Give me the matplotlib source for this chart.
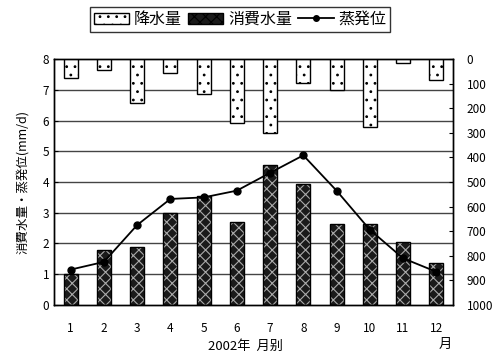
import numpy as np
import matplotlib
matplotlib.use("Agg")
import matplotlib.pyplot as plt
from matplotlib.patches import Patch
from matplotlib.lines import Line2D

plt.rcParams['font.family'] = ['Noto Sans CJK JP', 'DejaVu Sans']
plt.rcParams['hatch.linewidth'] = 0.8

months      = ["1", "2", "3", "4", "5", "6", "7", "8", "9", "10", "11", "12"]
rain_mm     = [75, 45, 180, 55, 140, 260, 300, 95, 125, 275, 15, 85]
consumption = [1.0, 1.8, 1.9, 3.0, 3.55, 2.7, 4.55, 3.95, 2.65, 2.65, 2.05, 1.35]
evaporation = [1.15, 1.4, 2.6, 3.45, 3.5, 3.72, 4.3, 4.87, 3.72, 2.45, 1.52, 1.08]

x = np.arange(len(months))
w = 0.42

fig = plt.figure(figsize=(4.96, 3.63), dpi=100)
ax = fig.add_axes([0.109, 0.160, 0.804, 0.677])
ax2 = ax.twinx()

# 消費水量: dark bars with light speckle
ax.bar(x, consumption, w, color="#1a1a1a", hatch="xxx", edgecolor="#aaaaaa",
       linewidth=0, zorder=2)
ax.bar(x, consumption, w, fill=False, edgecolor="black", linewidth=1.0, zorder=3)

# 蒸発位
ax.plot(x, evaporation, color="black", lw=1.3, marker="o", ms=5, zorder=4)

ax.set_ylim(0, 8)
ax.set_xlim(-0.5, 11.5)
ax.set_yticks(range(0, 9))
for yv in range(1, 8):
    ax.axhline(yv, color="#444444", lw=1.0, zorder=1)
ax.set_xticks(x)
ax.set_xticklabels(months)
ax.tick_params(axis="both", labelsize=8.5, length=3, direction="in")
ax.tick_params(axis="x", length=0, pad=12)
ax.set_ylabel("消費水量・蒸発位(mm/d)", fontsize=9, labelpad=10)

# 降水量 hanging from the top on the reversed right axis
ax2.bar(x, rain_mm, w, color="white", hatch="..", edgecolor="black",
        linewidth=1.0, zorder=2)
ax2.set_ylim(1000, 0)
ax2.set_yticks(range(0, 1001, 100))
ax2.tick_params(axis="y", labelsize=8.5, length=3, direction="in", pad=10)

for a in (ax, ax2):
    for s in a.spines.values():
        s.set_linewidth(1.0)

fig.text(0.495, 0.045, "2002年  月别", ha="center", va="center", fontsize=9.5)
fig.text(0.897, 0.052, "月", ha="center", va="center", fontsize=9.5)

handles = [
    Patch(facecolor="white", edgecolor="black", hatch="..", label="降水量"),
    Patch(facecolor="#1a1a1a", edgecolor="black", hatch="xxx", label="消費水量"),
    Line2D([0], [0], color="black", marker="o", ms=4, lw=1.3, label="蒸発位"),
]
fig.legend(handles=handles, loc="center", bbox_to_anchor=(0.484, 0.947), ncol=3,
           frameon=True, fancybox=False, edgecolor="black", fontsize=11.5,
           handlelength=2.2, handletextpad=0.3, columnspacing=0.4,
           borderpad=0.25)

plt.savefig("out.png", dpi=100)
